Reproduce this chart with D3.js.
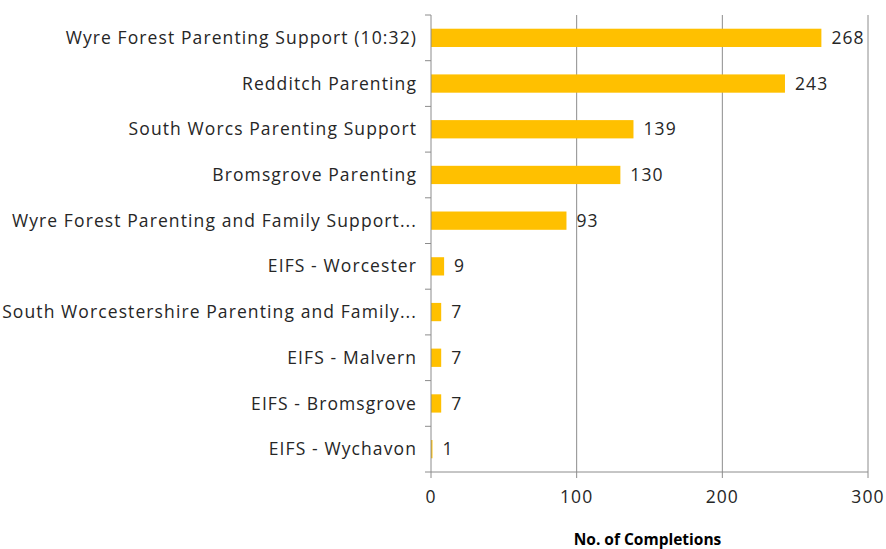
<!DOCTYPE html>
<html><head><meta charset="utf-8">
<script src="https://cdn.jsdelivr.net/npm/d3@7"></script>
<style>body{margin:0;background:#fff;} svg{display:block;}</style>
</head><body>
<svg id="c" width="886" height="549"></svg>
<script>
const categories = ["Wyre Forest Parenting Support (10:32)","Redditch Parenting","South Worcs Parenting Support","Bromsgrove Parenting","Wyre Forest Parenting and Family Support...","EIFS - Worcester","South Worcestershire Parenting and Family...","EIFS - Malvern","EIFS - Bromsgrove","EIFS - Wychavon"];
const values = [268,243,139,130,93,9,7,7,7,1];
const xTicks = [0,100,200,300];
const xTitle = "No. of Completions";

(function(){
const svg = d3.select("#c");
const font = "Open Sans, sans-serif";
const fs = 17.5, ls = "1.1px";
const pL = 431, pR = 868, pT = 15, pB = 472;
const x = d3.scaleLinear().domain([0,300]).range([pL,pR]);
const y = d3.scaleBand().domain(categories).range([pT,pB]).paddingInner(0.6).paddingOuter(0.3);
const band = (pB-pT)/categories.length;

svg.append("g").selectAll("line").data(xTicks.slice(1)).join("line")
  .attr("x1",d=>x(d)).attr("x2",d=>x(d)).attr("y1",pT).attr("y2",pB)
  .attr("stroke","#8c8c8c").attr("stroke-width",1);

svg.append("g").selectAll("rect").data(values).join("rect")
  .attr("x",x(0)).attr("y",(d,i)=>y(categories[i]))
  .attr("width",d=>x(d)-x(0)).attr("height",y.bandwidth())
  .attr("fill","#FFC000");

svg.append("g").selectAll("text").data(values).join("text")
  .attr("x",d=>x(d)+10).attr("y",(d,i)=>y(categories[i])+y.bandwidth()/2)
  .attr("dy","0.35em").attr("font-family",font).attr("font-size",fs).attr("letter-spacing",ls).attr("fill","#262626")
  .text(d=>d);

svg.append("line").attr("x1",pL).attr("x2",pL).attr("y1",pT).attr("y2",pB).attr("stroke","#8c8c8c");
const yt = d3.range(categories.length+1).map(i=>pT+i*band);
svg.append("g").selectAll("line").data(yt).join("line")
  .attr("x1",pL-6).attr("x2",pL).attr("y1",d=>d).attr("y2",d=>d).attr("stroke","#8c8c8c");
svg.append("g").selectAll("text").data(categories).join("text")
  .attr("x",pL-14).attr("y",d=>y(d)+y.bandwidth()/2).attr("dy","0.35em")
  .attr("text-anchor","end").attr("font-family",font).attr("font-size",fs).attr("letter-spacing",ls).attr("fill","#262626")
  .text(d=>d);

svg.append("line").attr("x1",pL).attr("x2",pR).attr("y1",pB).attr("y2",pB).attr("stroke","#8c8c8c");
svg.append("g").selectAll("line").data(xTicks).join("line")
  .attr("x1",d=>x(d)).attr("x2",d=>x(d)).attr("y1",pB).attr("y2",pB+6).attr("stroke","#8c8c8c");
svg.append("g").selectAll("text").data(xTicks).join("text")
  .attr("x",d=>x(d)).attr("y",497).attr("dy","0.35em").attr("text-anchor","middle")
  .attr("font-family",font).attr("font-size",fs).attr("letter-spacing",ls).attr("fill","#262626").text(d=>d);
svg.append("text").attr("x",(pL+pR)/2-2).attr("y",540).attr("dy","0.35em").attr("text-anchor","middle")
  .attr("font-family",font).attr("font-size",15.5).attr("font-weight","bold").attr("fill","#000").text(xTitle);
})();
</script>
</body></html>
